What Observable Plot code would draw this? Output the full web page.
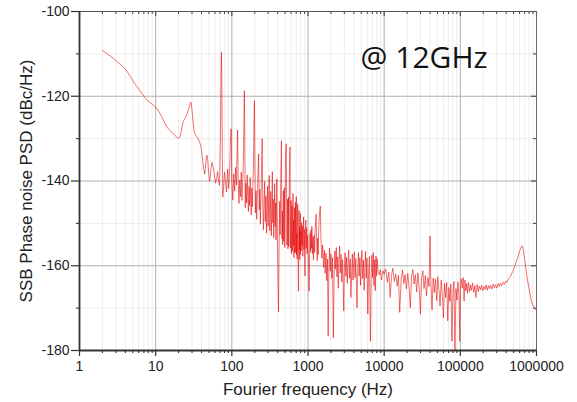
<!DOCTYPE html>
<html>
<head>
<meta charset="utf-8">
<script src="https://cdn.jsdelivr.net/npm/d3@7"></script>
<script src="https://cdn.jsdelivr.net/npm/@observablehq/plot@0.6"></script>
<style>
  html, body { margin: 0; padding: 0; background: #fff; }
  #chart svg { display: block; }
</style>
</head>
<body>
<div id="chart"></div>
<script>
// ---- Data (frequency Hz, SSB phase noise dBc/Hz) ----
const segLow = [
  [2,-109.2],[2.4,-110.2],[2.8,-111.1],[3.2,-112],[3.6,-112.8],[4,-113.6],[4.5,-114.9],[5,-116.3],
  [5.5,-117.4],[6,-118.3],[6.5,-119.2],[7,-120],[8,-121.2],[9,-121.9],[10,-122.5],[11,-123.6],
  [12,-124.8],[13,-126.1],[14,-127.2],[15,-127.9],[16,-128.4],[17,-128.8],[18,-129.3],[19,-129.7],
  [20,-129.9],[21,-129.4],[22,-127.6],[23,-126],[24,-125.3],[25,-124.8],[26,-124.1],[27,-123],
  [28,-122.2],[29,-121.4],[30,-123.2],[31,-126.1],[32,-128.3],[33,-128.9],[34,-129.3],[35,-129.6],
  [36,-130],[37,-130.4],[38,-131],[39,-131.6],[40,-132.8],[41,-134.5],[42,-136.2],[43,-137.5],
  [44,-138.4],[45,-137],[46,-134.8],[47,-133.9],[48,-134.5],[49,-136.8],[50,-138.7],[51,-140.1],
  [52,-139.2],[53,-137.4],[55,-135.6],[57,-136.8],[59,-138.6],[61,-140.5],[63,-139.5],[65,-137.8],
  [67,-140.2],[69,-141],[71,-128],[72,-115],[73,-109.6],[74,-118],[75,-134],[76,-143.8],[78,-141.5],[80,-137.9]
];
const segSpur = [
  [82,-139.4],[85,-142.6],[88,-137.2],[91,-141.8],[94,-136.5],[96,-130],[98,-127.7],[100,-140.2],
  [103,-144.5],[106,-138.3],[109,-142.4],[112,-136.8],[115,-141],[117,-133],[119,-128],[121,-139.6],
  [124,-145.3],[127,-139.8],[130,-143.7],[133,-137.9],[136,-144.6],[139,-140.1],[142,-135.2],[144,-126],
  [146,-118.7],[148,-130],[150,-146.3],[153,-140.5],[156,-145.2],[159,-138.6],[162,-143.9],[165,-147.2],
  [168,-141.3],[171,-145.8],[174,-139.2],[177,-144.6],[180,-148],[183,-141.7],[186,-146.1],[189,-140],
  [192,-137],[195,-127],[198,-121],[201,-135],[204,-147.5],[208,-142.3],[212,-149],[216,-143.6],
  [220,-138.5],[225,-133.6],[229,-146.8],[233,-142],[237,-150.2],[241,-144.4],[245,-138],[250,-130],
  [255,-146.3],[260,-151.5],[265,-145],[270,-140.1],[275,-149.6],[280,-143.5],[285,-152.3],[290,-146.8],
  [295,-141.2],[300,-150.7],[305,-144],[310,-138.7],[315,-151.8],[320,-147.2],[325,-142.5],[330,-152.9],
  [335,-146.6],[340,-137.8],[345,-149.9],[350,-144.3],[355,-153.4],[360,-147.9],[365,-140.6],[370,-150.8],
  [375,-145.2],[380,-153.9],[385,-147],[390,-139.5],[395,-151.6],[400,-158],[405,-165],[410,-170.9],
  [415,-160],[420,-151],[425,-144.8],[430,-152.7],[435,-146.4],[440,-138],[445,-134],[448,-130.5],
  [452,-145],[456,-153.6],[460,-147.1],[465,-155],[470,-148.8],[475,-142.3],[480,-154.2],[485,-149.5],
  [490,-141.6],[495,-155.7],[500,-148.3],[505,-138],[510,-133],[518,-131.2],[525,-146],[530,-155.1],
  [535,-149.7],[540,-144.3],[545,-156],[550,-150.4],[555,-143.8],[560,-155.5],[565,-148.6],[570,-139.5],
  [575,-135],[580,-132],[585,-147],[590,-155.9],[595,-150.1],[600,-144.6],[606,-157.2],[612,-151.3],
  [618,-145.8],[624,-156.6],[630,-150],[636,-142.9],[642,-155.3],[648,-149.2],[654,-158.1],[660,-152.6],
  [666,-146.3],[672,-157],[678,-151.8],[684,-145],[690,-156.9],[696,-150.5],[702,-143.7],[708,-157.5],
  [714,-152.3],[720,-158.4],[726,-150.7],[732,-145.4],[738,-155.8],[744,-160.5],[750,-166],[756,-157],
  [762,-146.9],[768,-156.2],[774,-150.8],[780,-158.6],[786,-153.1],[792,-147.6],[798,-157.3]
];
const segMid = [
  [805,-151.9],[815,-156.4],[825,-149.8],[835,-155.2],[845,-150.6],[855,-157.8],[865,-152.1],[875,-148.5],
  [885,-156.1],[895,-151.4],[905,-158.3],[915,-162.4],[925,-153.7],[935,-149.2],[945,-155.9],[960,-151],
  [975,-157.2],[990,-152.8],[1005,-156.6],[1020,-160.5],[1035,-166],[1050,-157.4],[1065,-152.2],[1080,-156.8],
  [1095,-151.5],[1110,-155.9],[1125,-150.7],[1140,-157.1],[1160,-153.2],[1180,-158.6],[1200,-152.8],[1220,-156.9],
  [1240,-151.6],[1260,-149.8],[1280,-147.8],[1300,-154.4],[1320,-158.8],[1340,-153.5],[1360,-157.4],[1380,-151.8],
  [1400,-149],[1420,-147.5],[1450,-145.9],[1480,-153.6],
  [1520,-158.2],[1560,-155.1],[1600,-160.4],[1640,-156.3],[1680,-161.8],[1720,-157],[1760,-163.5],[1800,-158.4],
  [1840,-176.6],[1880,-160.9],[1920,-155.8],[1960,-161.3],[2000,-157.2],[2050,-163],[2100,-158.1],[2150,-177],
  [2200,-162.4],[2250,-156.5],[2300,-160.8],[2350,-155.7],[2400,-162.6],[2450,-157.9],[2500,-165.3],[2550,-159.2],
  [2600,-155.4],[2660,-161.7],[2720,-157.3],[2780,-163.8],[2840,-158.6],[2900,-164.9],[2950,-170.7],[3000,-161.2],
  [3070,-156.9],[3140,-162.5],[3210,-158],[3280,-164.1],[3350,-159.5],[3420,-156.3],[3500,-162.9],[3580,-158.4],
  [3660,-167.5],[3740,-161.6],[3820,-157.2],[3900,-163.4],[3980,-159],[4060,-156.7],[4150,-162.8],[4240,-158.3],
  [4330,-165.2],[4400,-169.9],[4500,-160.7],[4600,-156.9],[4700,-162.4],[4800,-158.1],[4900,-164.6],[5000,-159.6],
  [5100,-156.4],[5220,-163.1],[5340,-158.7],[5460,-165.8],[5580,-160.2],[5700,-156.6],[5820,-162.9],[5950,-158.2],
  [6100,-171.4],[6250,-161.5],[6400,-157.8],[6600,-177.8],[6750,-163.2],[6900,-157.5],[7050,-162.8],[7200,-156.9],
  [7350,-164.7],[7500,-158.6],[7650,-165.9],[7800,-157.7],[7950,-162.4],[8100,-158.3],[8300,-161.5],[8600,-162.2],[8900,-160.9]
];
const segHigh = [
  [9200,-163.4],[9600,-161.2],[10000,-162],[10500,-160.8],[11000,-163.9],[11500,-161.5],[12000,-167.5],[12500,-162.2],
  [13000,-160.6],[13600,-163.7],[14200,-161.9],[14800,-164.8],[15400,-162.3],[16000,-171],[16700,-163.4],[17400,-161],
  [18100,-164.2],[18800,-162.1],[19600,-165.5],[20400,-161.8],[21200,-164.9],[22000,-169.9],[22900,-162.6],[23800,-160.9],
  [24700,-164.3],[25700,-162.1],[26700,-166.2],[27700,-161.7],[28800,-165],[29900,-171.4],[31000,-163.1],[32200,-161.2],
  [33400,-165.4],[34700,-162.3],[36000,-167.1],[37400,-162.8],[38800,-164.9],[40000,-153],[41000,-163.6],[42500,-170.4],
  [44000,-162.9],[45600,-166.3],[47200,-163.1],[48900,-168.2],[50600,-162.6],[52400,-165.7],[54200,-169.5],[56100,-163.4],
  [58000,-166.8],[60000,-172.3],[62000,-164.2],[64100,-167.5],[66200,-163.9],[68400,-173],[70600,-165.1],[72900,-168.4],
  [75200,-164.3],[77600,-177.8],[80000,-166.2],[82500,-163.7],[85000,-180],[87600,-165.4],[90300,-168.1],[93000,-163.8],
  [95800,-166.7],[98600,-177.8],[100000,-164.9]
];
const segTop = [
  [103000,-163.1],[106000,-165.3],[109000,-162.8],[112000,-168.3],[115000,-163.4],[118000,-165.9],[121000,-164.2],[124000,-166.5],
  [128000,-163.9],[132000,-166.1],[136000,-164.5],[140000,-165.8],[145000,-164.1],[150000,-166.3],[155000,-164.7],[160000,-167.5],
  [166000,-164.4],[172000,-166.1],[178000,-164.8],[184000,-165.7],[190000,-164.6],[197000,-165.9],[204000,-164.9],[211000,-165.6],
  [218000,-164.5],[226000,-165.8],[234000,-164.7],[242000,-165.4],[250000,-164.6],[260000,-165.5],[270000,-164.3],[280000,-165.2],
  [290000,-164.5],[300000,-165.3],[312000,-164.2],[324000,-164.9],[336000,-164.1],[350000,-164.7],[365000,-163.9],[380000,-164.4],
  [395000,-163.6],[410000,-163.9],[425000,-163.2],[440000,-162.8],[455000,-162.5],[470000,-161.9],[490000,-161.3],[510000,-160.5],
  [530000,-159.6],[550000,-158.8],[570000,-157.9],[590000,-157],[610000,-156.2],[630000,-155.6],[650000,-155.3],[665000,-155.8],
  [680000,-157],[700000,-158.6],[720000,-160.2],[740000,-161.9],[760000,-163.3],[790000,-165],[820000,-166.6],[850000,-168],
  [880000,-168.9],[910000,-169.6],[940000,-170],[970000,-170.3],[1000000,-170.6]
];

const xMajorTicks = [1, 10, 100, 1000, 10000, 100000, 1000000];
const xTickLabels = ["1", "10", "100", "1000", "10000", "100000", "1000000"];
const yMajorTicks = [-180, -160, -140, -120, -100];
const yTickLabels = ["-180", "-160", "-140", "-120", "-100"];
const yMinorTicks = [-170, -150, -130, -110];
const annotation = "@ 12GHz";
const xTitle = "Fourier frequency (Hz)";
const yTitle = "SSB Phase noise PSD (dBc/Hz)";

const xMinorTicks = [];
for (const d of xMajorTicks.slice(0, -1)) for (let k = 2; k <= 9; k++) xMinorTicks.push(d * k);

const xLabelOf = new Map(xMajorTicks.map((t, i) => [t, xTickLabels[i]]));
const yLabelOf = new Map(yMajorTicks.map((t, i) => [t, yTickLabels[i]]));

const series = [...segLow, ...segSpur, ...segMid, ...segHigh, ...segTop].map(([f, v]) => ({f, v}));

const W = 577, H = 402, mL = 79, mR = 41, mT = 11, mB = 52;
const innerW = W - mL - mR, innerH = H - mT - mB;
const font = "'Liberation Sans', Arial, sans-serif";

const chart = Plot.plot({
  width: W,
  height: H,
  marginLeft: mL,
  marginRight: mR,
  marginTop: mT,
  marginBottom: mB,
  style: {fontFamily: font, background: "#fff", color: "#222"},
  x: {type: "log", domain: [1, 1e6]},
  y: {type: "linear", domain: [-180, -100]},
  marks: [
    // minor grid
    Plot.ruleX(xMinorTicks, {stroke: "#e8e8e8", strokeWidth: 0.8}),
    Plot.ruleY(yMinorTicks, {stroke: "#e8e8e8", strokeWidth: 0.8}),
    // major grid
    Plot.ruleX(xMajorTicks, {stroke: "#a8a8a8", strokeWidth: 0.9}),
    Plot.ruleY(yMajorTicks, {stroke: "#a8a8a8", strokeWidth: 0.9}),
    // data
    Plot.line(series, {x: "f", y: "v", stroke: "#e60000", strokeWidth: 0.7, strokeOpacity: 0.8, clip: true}),
    // axes ticks
    Plot.axisX({ticks: xMajorTicks, tickSize: 6, tickPadding: 5, tickFormat: d => xLabelOf.get(d) ?? String(d), fontSize: 14, label: null, stroke: "#333", strokeWidth: 1.2, fill: "#222"}),
    Plot.axisX({ticks: xMinorTicks, tickSize: 3, tickFormat: () => "", label: null, stroke: "#333", strokeWidth: 1.1}),
    Plot.axisY({ticks: yMajorTicks, tickSize: 8, tickPadding: 2, tickFormat: d => yLabelOf.get(d) ?? String(d), fontSize: 14, label: null, stroke: "#333", strokeWidth: 1.2, fill: "#222"}),
    Plot.axisY({ticks: yMinorTicks, tickSize: 3, tickFormat: () => "", label: null, stroke: "#333", strokeWidth: 1.1}),
    // inward ticks on top and right
    Plot.ruleX(xMajorTicks, {insetBottom: innerH - 5, stroke: "#444", strokeWidth: 1.1}),
    Plot.ruleX(xMinorTicks, {insetBottom: innerH - 3, stroke: "#444", strokeWidth: 1}),
    Plot.ruleY(yMajorTicks, {insetLeft: innerW - 5, stroke: "#444", strokeWidth: 1.1}),
    Plot.ruleY(yMinorTicks, {insetLeft: innerW - 3, stroke: "#444", strokeWidth: 1}),
    // frame
    Plot.ruleY([-100], {stroke: "#555", strokeWidth: 1}),
    Plot.ruleX([1e6], {stroke: "#666", strokeWidth: 1}),
    Plot.ruleY([-180], {stroke: "#333", strokeWidth: 1.8}),
    Plot.ruleX([1], {stroke: "#333", strokeWidth: 1.8}),
    // annotation & titles
    Plot.text([annotation], {x: 4900, y: -111, text: d => d, textAnchor: "start", fontSize: 30, fontFamily: "'Open Sans', 'Noto Sans', sans-serif", fill: "#111"}),
    Plot.text([xTitle], {frameAnchor: "bottom", dy: 44, text: d => d, textAnchor: "middle", fontSize: 17, fill: "#222"}),
    Plot.text([yTitle], {frameAnchor: "left", dx: -53, rotate: -90, text: d => d, textAnchor: "middle", fontSize: 17, fill: "#222"})
  ]
});
document.getElementById("chart").appendChild(chart);
</script>
</body>
</html>
